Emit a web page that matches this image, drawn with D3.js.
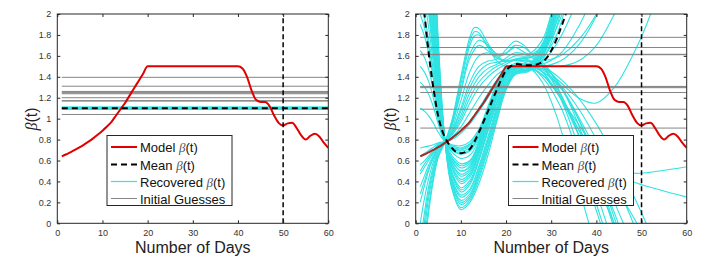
<!DOCTYPE html>
<html>
<head>
<script src="https://cdn.jsdelivr.net/npm/d3@7"></script>
<style>
    body { margin: 0; background: #fff; }
    #chart { display: block; font-family: "Liberation Sans", Arial, sans-serif; }
</style>
</head>
<body>
<svg id="chart" width="709" height="267"></svg>
<script>
// ---- data ----
const xTicks = [0, 10, 20, 30, 40, 50, 60];
const yTicks = [0, 0.2, 0.4, 0.6, 0.8, 1, 1.2, 1.4, 1.6, 1.8, 2];
const cutoffDay = 50;

// model beta(t), days 1..60
const modelBeta = [
    0.64, 0.66, 0.68, 0.703, 0.728, 0.755, 0.783, 0.814, 0.848, 0.885,
    0.925, 0.97, 1.03, 1.09, 1.15, 1.22, 1.29, 1.36, 1.43, 1.50,
    1.50, 1.50, 1.50, 1.50, 1.50, 1.50, 1.50, 1.50, 1.50, 1.50,
    1.50, 1.50, 1.50, 1.50, 1.50, 1.50, 1.50, 1.50, 1.50, 1.50,
    1.48, 1.40, 1.27, 1.18, 1.16, 1.16, 1.12, 1.03, 0.96, 0.935,
    0.955, 0.96, 0.91, 0.84, 0.80, 0.835, 0.855, 0.83, 0.77, 0.72
];

// left panel: constant fits
const guessesLeft = [1.395, 1.31, 1.26, 1.253, 1.246, 1.238, 1.20, 1.172, 1.168, 1.04];
const recoveredLeft = [1.088, 1.093, 1.097, 1.100, 1.104, 1.108, 1.112];
const meanLeft = 1.10;

// right panel
const guessesRight = [1.777, 1.68, 1.615, 1.611, 1.308, 1.302, 1.296, 1.25, 1.09, 0.91];
// mean of recovered curves, days 1..34
const meanRight = [
    2.5, 1.98, 1.58, 1.27, 1.02, 0.87, 0.78, 0.72, 0.68, 0.67,
    0.68, 0.71, 0.78, 0.87, 0.97, 1.07, 1.18, 1.28, 1.38, 1.46,
    1.50, 1.52, 1.52, 1.51, 1.51, 1.51, 1.52, 1.54, 1.58, 1.65,
    1.74, 1.85, 1.97, 2.10
];
// recovered curves as [day, value] knots
const recoveredRight = [
    [[1,9],[2,6.4],[3,4.4],[4,2.85],[5,1.75],[6.5,0.78],[8,0.33],[10,0.13],[12,0.2],[14,0.38],[16,0.65],[18,0.98],[20,1.27],[22,1.42],[25,1.45],[28,1.6],[30,1.85],[32,2.3]],
    [[1,8.5],[2,6.1],[3,4.2],[4,2.75],[5,1.7],[6.5,0.78],[8,0.35],[10,0.15],[12,0.22],[14,0.42],[16,0.7],[18,1.0],[20,1.29],[22,1.43],[25,1.46],[28,1.58],[30,1.8],[32,2.2]],
    [[1,8],[2,5.8],[3,4.0],[4,2.65],[5,1.65],[6.5,0.78],[8,0.37],[10,0.18],[12,0.24],[14,0.45],[16,0.72],[18,1.03],[20,1.3],[22,1.43],[25,1.46],[28,1.62],[30,1.9],[32,2.4]],
    [[1,7.5],[2,5.5],[3,3.85],[4,2.58],[5,1.63],[6.5,0.78],[8,0.39],[10,0.2],[12,0.26],[14,0.48],[16,0.75],[18,1.06],[20,1.31],[22,1.44],[25,1.47],[28,1.66],[30,1.95],[32,2.4]],
    [[1,7],[2,5.2],[3,3.7],[4,2.5],[5,1.6],[6.5,0.78],[8,0.4],[10,0.22],[12,0.28],[14,0.5],[16,0.78],[18,1.08],[20,1.32],[22,1.44],[25,1.46],[28,1.5],[32,1.5],[36,1.55],[40,1.7],[44,2.0],[46,2.2]],
    [[1,6.6],[2,4.95],[3,3.55],[4,2.42],[5,1.57],[6.5,0.78],[8,0.42],[10,0.25],[12,0.31],[14,0.53],[16,0.8],[18,1.1],[20,1.34],[22,1.45],[25,1.47],[28,1.56],[31,1.85],[33,2.2]],
    [[1,6.2],[2,4.7],[3,3.4],[4,2.35],[5,1.55],[6.5,0.78],[8,0.43],[10,0.27],[12,0.33],[14,0.55],[16,0.83],[18,1.12],[20,1.35],[22,1.45],[25,1.47],[28,1.48],[31,1.38],[34,1.15],[38,0.72],[42,0.25],[45,-0.15]],
    [[1,5.6],[2,4.3],[3,3.15],[4,2.2],[5,1.48],[6.5,0.78],[8,0.46],[10,0.3],[12,0.37],[14,0.6],[16,0.88],[18,1.15],[20,1.37],[22,1.46],[25,1.48],[28,1.6],[30,1.82],[32,2.15]],
    [[1,5.3],[2,4.1],[3,3.0],[4,2.13],[5,1.45],[6.5,0.78],[8,0.48],[10,0.32],[12,0.39],[14,0.61],[16,0.89],[18,1.16],[20,1.38],[22,1.47],[25,1.49],[28,1.62],[30,1.86],[32,2.25]],
    [[1,5.0],[2,3.9],[3,2.9],[4,2.07],[5,1.42],[6.5,0.78],[8,0.49],[10,0.34],[12,0.41],[14,0.63],[16,0.9],[18,1.17],[20,1.38],[22,1.47],[25,1.5],[28,1.65],[30,1.9],[32,2.3]],
    [[1,4.5],[2,3.55],[3,2.7],[4,1.95],[5,1.37],[6.5,0.78],[8,0.52],[10,0.38],[12,0.44],[14,0.66],[16,0.93],[18,1.2],[20,1.4],[22,1.48],[25,1.5],[28,1.45],[32,1.2],[36,0.85],[40,0.45],[44,-0.05],[46,-0.3]],
    [[1,4.25],[2,3.4],[3,2.6],[4,1.9],[5,1.34],[6.5,0.78],[8,0.54],[10,0.4],[12,0.46],[14,0.68],[16,0.94],[18,1.21],[20,1.41],[22,1.48],[25,1.5],[28,1.47],[32,1.3],[36,1.0],[40,0.62],[44,0.2],[47,-0.1]],
    [[1,4.0],[2,3.2],[3,2.5],[4,1.85],[5,1.32],[6.5,0.78],[8,0.55],[10,0.42],[12,0.48],[14,0.69],[16,0.95],[18,1.22],[20,1.41],[22,1.48],[25,1.5],[28,1.68],[30,1.95],[32,2.4]],
    [[1,3.6],[2,2.95],[3,2.35],[4,1.77],[5,1.28],[6.5,0.78],[8,0.57],[10,0.45],[12,0.5],[14,0.71],[16,0.97],[18,1.23],[20,1.42],[22,1.49],[25,1.51],[28,1.5],[32,1.55],[36,1.7],[40,1.98],[43,2.3]],
    [[1,3.4],[2,2.82],[3,2.28],[4,1.73],[5,1.26],[6.5,0.78],[8,0.58],[10,0.47],[12,0.52],[14,0.72],[16,0.98],[18,1.24],[20,1.42],[22,1.49],[25,1.5],[28,1.6],[30,1.8],[33,2.25]],
    [[1,3.2],[2,2.7],[3,2.2],[4,1.7],[5,1.25],[6.5,0.78],[8,0.6],[10,0.5],[12,0.54],[14,0.74],[16,0.99],[18,1.25],[20,1.43],[22,1.49],[25,1.5],[28,1.62],[30,1.85],[33,2.3]],
    [[1,2.9],[2,2.5],[3,2.07],[4,1.63],[5,1.2],[6.5,0.78],[8,0.62],[10,0.53],[12,0.57],[14,0.76],[16,1.0],[18,1.26],[20,1.43],[22,1.49],[25,1.49],[28,1.35],[31,1.05],[34,0.62],[37,0.2],[39,-0.1]],
    [[1,2.75],[2,2.4],[3,2.01],[4,1.6],[5,1.18],[6.5,0.78],[8,0.63],[10,0.55],[12,0.59],[14,0.77],[16,1.01],[18,1.26],[20,1.43],[22,1.49],[25,1.51],[28,1.64],[30,1.88],[32,2.3]],
    [[1,2.6],[2,2.3],[3,1.95],[4,1.56],[5,1.16],[6.5,0.78],[8,0.65],[10,0.57],[12,0.6],[14,0.78],[16,1.02],[18,1.27],[20,1.44],[22,1.5],[25,1.52],[28,1.7],[30,2.0],[32,2.5]],
    [[1,2.35],[2,2.12],[3,1.83],[4,1.5],[5,1.12],[6.5,0.78],[8,0.68],[10,0.62],[12,0.65],[14,0.8],[16,1.04],[18,1.28],[20,1.44],[22,1.5],[25,1.51],[28,1.52],[32,1.62],[35,1.8],[38,2.05],[40,2.3]],
    [[1,2.1],[2,1.95],[3,1.72],[4,1.43],[5,1.08],[6.5,0.78],[8,0.7],[10,0.66],[12,0.69],[14,0.82],[16,1.05],[18,1.29],[20,1.45],[22,1.5],[25,1.5],[28,1.45],[32,1.32],[36,1.1],[40,0.8],[44,0.42],[48,0.02],[50,-0.2]],
    [[1,2.0],[2,1.86],[3,1.66],[4,1.39],[5,1.06],[6.5,0.78],[8,0.7],[10,0.67],[12,0.7],[14,0.83],[16,1.05],[18,1.29],[20,1.45],[22,1.5],[25,1.5],[28,1.58],[31,1.78],[34,2.2]],
    [[1,1.9],[2,1.78],[3,1.6],[4,1.35],[5,1.05],[6.5,0.78],[8,0.71],[10,0.69],[12,0.72],[14,0.84],[16,1.06],[18,1.3],[20,1.45],[22,1.5],[25,1.51],[28,1.65],[30,1.9],[32,2.35]],
    [[1,1.65],[2,1.58],[3,1.45],[4,1.26],[5,1.02],[6.5,0.78],[8,0.72],[10,0.7],[12,0.74],[14,0.86],[16,1.08],[18,1.3],[20,1.46],[22,1.51],[25,1.52],[28,1.55],[31,1.7],[35,2.05],[37,2.3]],
    [[1,1.5],[2,1.44],[3,1.34],[4,1.18],[5,0.98],[6.5,0.78],[8,0.73],[10,0.71],[12,0.75],[14,0.87],[16,1.09],[18,1.31],[20,1.46],[22,1.5],[25,1.5],[28,1.42],[32,1.22],[36,0.9],[40,0.5],[44,0.1],[46,-0.15]],
    [[1,1.35],[2,1.3],[3,1.22],[4,1.1],[5,0.95],[6.5,0.78],[8,0.74],[10,0.72],[12,0.76],[14,0.88],[16,1.1],[18,1.32],[20,1.46],[22,1.5],[25,1.5],[28,1.4],[32,1.12],[36,0.65],[40,0.12],[42,-0.15]],
    [[1,1.1],[2,1.07],[3,1.02],[4,0.95],[5,0.87],[6.5,0.78],[8,0.75],[10,0.74],[12,0.78],[14,0.9],[16,1.12],[18,1.33],[20,1.47],[22,1.51],[25,1.52],[28,1.6],[30,1.78],[33,2.2]],
    [[1,3.0],[2,2.55],[3,2.1],[4,1.65],[5,1.22],[6.5,0.78],[8,0.6],[10,0.5],[12,0.55],[14,0.75],[16,1.0],[18,1.25],[20,1.42],[22,1.48],[25,1.48],[28,1.42],[32,1.2],[36,0.95],[40,0.7],[44,0.55],[48,0.48],[54,0.5],[60,0.54]],
    [[1,-0.8],[2,-0.25],[3,0.15],[4,0.43],[5,0.63],[6.5,0.78],[8,0.98],[10,1.4],[12,1.78],[13,1.87],[14,1.86],[16,1.72],[18,1.6],[20,1.55],[23,1.58],[26,1.6],[29,1.8],[31,2.1]],
    [[1,-0.65],[2,-0.15],[3,0.2],[4,0.46],[5,0.64],[6.5,0.78],[8,0.97],[10,1.37],[12,1.74],[13,1.83],[14,1.82],[16,1.68],[18,1.55],[20,1.5],[23,1.52],[26,1.55],[29,1.45],[33,1.15],[37,0.75],[41,0.3],[45,-0.1]],
    [[1,-0.5],[2,-0.05],[3,0.28],[4,0.5],[5,0.66],[6.5,0.78],[8,0.95],[10,1.33],[12,1.7],[13,1.79],[14,1.8],[16,1.7],[18,1.58],[20,1.55],[23,1.57],[26,1.58],[29,1.5],[32,1.25],[36,0.85],[40,0.3],[43,-0.1]],
    [[1,-0.35],[2,0.04],[3,0.33],[4,0.53],[5,0.68],[6.5,0.78],[8,0.94],[10,1.28],[12,1.62],[14,1.75],[16,1.7],[18,1.62],[20,1.63],[22,1.68],[25,1.62],[28,1.75],[30,2.0],[32,2.3]],
    [[1,-0.2],[2,0.12],[3,0.38],[4,0.56],[5,0.69],[6.5,0.78],[8,0.93],[10,1.25],[12,1.58],[14,1.7],[16,1.65],[18,1.58],[20,1.56],[22,1.6],[25,1.6],[28,1.7],[31,2.0],[33,2.3]],
    [[1,0.0],[2,0.25],[3,0.45],[4,0.6],[5,0.71],[6.5,0.78],[8,0.9],[10,1.17],[12,1.45],[14,1.6],[16,1.63],[18,1.6],[20,1.62],[22,1.7],[24,1.68],[26,1.6],[29,1.45],[33,1.1],[37,0.6],[41,0.05],[43,-0.2]],
    [[1,0.2],[2,0.37],[3,0.52],[4,0.63],[5,0.72],[6.5,0.78],[8,0.88],[10,1.1],[12,1.35],[14,1.5],[16,1.55],[18,1.57],[20,1.66],[22,1.74],[24,1.7],[26,1.62],[29,1.7],[31,1.9],[34,2.3]],
    [[1,0.28],[2,0.41],[3,0.54],[4,0.64],[5,0.72],[6.5,0.78],[8,0.87],[10,1.07],[12,1.3],[14,1.45],[16,1.52],[18,1.54],[20,1.55],[25,1.55],[30,1.45],[35,1.25],[40,0.95],[45,0.55],[50,0.1],[52,-0.1]],
    [[1,0.35],[2,0.46],[3,0.57],[4,0.66],[5,0.73],[6.5,0.78],[8,0.86],[10,1.03],[12,1.25],[14,1.4],[16,1.48],[18,1.52],[20,1.58],[22,1.63],[25,1.6],[28,1.52],[31,1.38],[35,1.1],[40,0.7],[45,0.3],[49,0.0],[51,-0.15]],
    [[1,0.47],[2,0.54],[3,0.61],[4,0.68],[5,0.74],[6.5,0.78],[8,0.84],[10,0.97],[12,1.15],[14,1.3],[16,1.4],[18,1.47],[20,1.52],[22,1.56],[25,1.58],[28,1.64],[31,1.85],[34,2.2]],
    [[1,0.5],[2,0.57],[3,0.63],[4,0.69],[5,0.74],[6.5,0.78],[8,0.85],[10,1.0],[12,1.2],[14,1.35],[16,1.44],[18,1.5],[20,1.54],[22,1.57],[25,1.56],[28,1.45],[32,1.2],[36,0.9],[40,0.65],[44,0.5],[48,0.4],[54,0.32],[60,0.25]],
    [[1,0.56],[2,0.6],[3,0.65],[4,0.7],[5,0.75],[6.5,0.78],[8,0.82],[10,0.92],[12,1.06],[14,1.2],[16,1.32],[18,1.42],[20,1.48],[22,1.53],[25,1.55],[28,1.5],[32,1.35],[36,1.2],[40,1.15],[44,1.3],[48,1.6],[52,2.0],[53,2.15]],
    [[1,0.64],[2,0.67],[3,0.7],[4,0.73],[5,0.76],[6.5,0.78],[8,0.81],[10,0.88],[12,0.98],[14,1.1],[16,1.24],[18,1.37],[20,1.46],[22,1.51],[25,1.53],[28,1.55],[32,1.6],[36,1.75],[40,2.0],[42,2.2]],
    [[1,0.72],[2,0.73],[3,0.74],[4,0.75],[5,0.77],[6.5,0.78],[8,0.8],[10,0.86],[12,0.95],[14,1.07],[16,1.2],[18,1.34],[20,1.45],[22,1.5],[25,1.51],[28,1.45],[32,1.3],[36,1.0],[40,0.55],[44,0.05],[46,-0.2]]
];

const legendLabels = ["Model ", "Mean ", "Recovered ", "Initial Guesses"];

// ---- drawing ----
const svg = d3.select("#chart");
const cyan = "#2fe3e3";
const gray = "#858585";
const red = "#e00000";
const axisColor = "#262626";

function panel(idx, left, legendX) {
    const top = 14, bottom = 223.3, width = 271;
    const x = d3.scaleLinear().domain([0, 60]).range([left, left + width]);
    const y = d3.scaleLinear().domain([0, 2]).range([bottom, top]);
    const g = svg.append("g");

    const clipId = "clip" + idx;
    svg.append("clipPath").attr("id", clipId)
        .append("rect").attr("x", left).attr("y", top)
        .attr("width", width).attr("height", bottom - top);
    const plot = g.append("g").attr("clip-path", `url(#${clipId})`);

    const days = d3.range(1, 61);
    const smooth = d3.line().x(d => x(d[0])).y(d => y(d[1])).curve(d3.curveCatmullRom.alpha(0.5));
    const mono = d3.line().x(d => x(d[0])).y(d => y(d[1])).curve(d3.curveMonotoneX);

    // recovered curves
    if (idx === 0) {
        plot.selectAll(".rec").data(recoveredLeft).join("line")
            .attr("x1", x(1)).attr("x2", x(60))
            .attr("y1", d => y(d)).attr("y2", d => y(d))
            .attr("stroke", cyan).attr("stroke-width", 1);
    } else {
        plot.selectAll(".rec").data(recoveredRight).join("path")
            .attr("d", smooth).attr("fill", "none")
            .attr("stroke", cyan).attr("stroke-width", 1.1);
    }

    // initial guesses
    plot.selectAll(".guess").data(idx === 0 ? guessesLeft : guessesRight).join("line")
        .attr("x1", x(1)).attr("x2", x(60))
        .attr("y1", d => y(d)).attr("y2", d => y(d))
        .attr("stroke", gray).attr("stroke-width", 1);

    // model
    const modelPts = days.map((d, i) => [d, modelBeta[i]]);
    if (idx === 0) {
        plot.append("path").attr("d", mono(modelPts)).attr("fill", "none")
            .attr("stroke", red).attr("stroke-width", 2);
    } else {
        plot.append("path").attr("d", mono(modelPts.slice(0, 20))).attr("fill", "none")
            .attr("stroke", "#a52a2a").attr("stroke-width", 2);
        plot.append("path").attr("d", mono(modelPts.slice(19))).attr("fill", "none")
            .attr("stroke", red).attr("stroke-width", 2);
    }

    // mean
    if (idx === 0) {
        plot.append("line").attr("x1", x(1)).attr("x2", x(60))
            .attr("y1", y(meanLeft)).attr("y2", y(meanLeft))
            .attr("stroke", "#000").attr("stroke-width", 2).attr("stroke-dasharray", "6,4");
    } else {
        plot.append("path").attr("d", smooth(meanRight.map((v, i) => [i + 1, v])))
            .attr("fill", "none").attr("stroke", "#000").attr("stroke-width", 2)
            .attr("stroke-dasharray", "6,4");
    }

    // cutoff line
    plot.append("line").attr("x1", x(cutoffDay)).attr("x2", x(cutoffDay))
        .attr("y1", y(0)).attr("y2", y(2))
        .attr("stroke", "#000").attr("stroke-width", 1.5).attr("stroke-dasharray", "5,3");

    // axes (MATLAB style box, inward ticks)
    const fmt = d3.format("~g");
    const ax = g.append("g").attr("color", axisColor);
    ax.append("g").attr("transform", `translate(0,${bottom})`)
        .call(d3.axisBottom(x).tickValues(xTicks).tickSize(-3).tickPadding(6).tickFormat(fmt));
    ax.append("g").attr("transform", `translate(0,${top})`)
        .call(d3.axisTop(x).tickValues(xTicks).tickSize(-3).tickFormat(""));
    ax.append("g").attr("transform", `translate(${left},0)`)
        .call(d3.axisLeft(y).tickValues(yTicks).tickSize(-3).tickPadding(6).tickFormat(fmt));
    ax.append("g").attr("transform", `translate(${left + width},0)`)
        .call(d3.axisRight(y).tickValues(yTicks).tickSize(-3).tickFormat(""));
    ax.selectAll(".domain").remove();
    ax.selectAll(".tick text").attr("font-size", 9).attr("fill", "#333")
        .attr("font-family", "'Liberation Sans', Arial, sans-serif");
    g.append("rect").attr("x", left).attr("y", top).attr("width", width).attr("height", bottom - top)
        .attr("fill", "none").attr("stroke", axisColor).attr("stroke-width", 1);

    // axis labels
    g.append("text").attr("x", left + width / 2).attr("y", 253)
        .attr("text-anchor", "middle").attr("font-size", 16).attr("fill", "#222")
        .text("Number of Days");
    const yl = g.append("text").attr("transform", `translate(${left - 20},${119}) rotate(-90)`)
        .attr("text-anchor", "middle").attr("font-size", 16).attr("fill", "#222");
    yl.append("tspan").attr("font-family", "'Liberation Serif', serif").attr("font-style", "italic").text("β");
    yl.append("tspan").text("(t)");

    // legend
    const lx = legendX, ly = 135.5, lw = 125, lh = 70;
    const lg = g.append("g");
    lg.append("rect").attr("x", lx).attr("y", ly).attr("width", lw).attr("height", lh)
        .attr("fill", "#fff").attr("stroke", axisColor).attr("stroke-width", 1);
    const rowY = [11.5, 29, 46, 63];
    const styles = [
        { stroke: red, w: 2, dash: null },
        { stroke: "#000", w: 2, dash: "6,4" },
        { stroke: cyan, w: 1.2, dash: null },
        { stroke: gray, w: 1, dash: null }
    ];
    legendLabels.forEach((lab, i) => {
        lg.append("line").attr("x1", lx + 4).attr("x2", lx + 30)
            .attr("y1", ly + rowY[i]).attr("y2", ly + rowY[i])
            .attr("stroke", styles[i].stroke).attr("stroke-width", styles[i].w)
            .attr("stroke-dasharray", styles[i].dash);
        const t = lg.append("text").attr("x", lx + 33).attr("y", ly + rowY[i] + 5)
            .attr("font-size", 13).attr("fill", "#111");
        t.append("tspan").text(lab);
        if (i < 3) {
            t.append("tspan").attr("font-family", "'Liberation Serif', serif")
                .attr("font-style", "italic").attr("fill", "#555").text("β");
            t.append("tspan").text("(t)");
        }
    });
}

panel(0, 57.3, 107);
panel(1, 415.7, 508.5);
</script>
</body>
</html>
